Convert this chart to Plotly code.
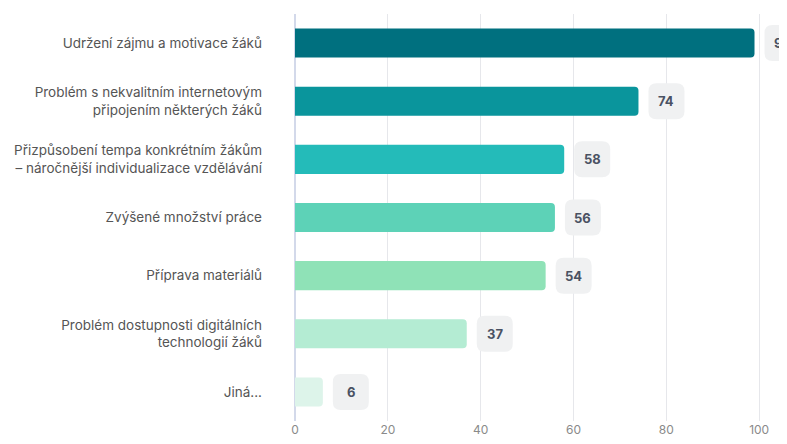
import plotly.graph_objects as go

categories = [
    "Udržení zájmu a motivace žáků",
    "Problém s nekvalitním internetovým<br>připojením některých žáků",
    "Přizpůsobení tempa konkrétním žákům<br>– náročnější individualizace vzdělávání",
    "Zvýšené množství práce",
    "Příprava materiálů",
    "Problém dostupnosti digitálních<br>technologií žáků",
    "Jiná...",
]
values = [99, 74, 58, 56, 54, 37, 6]
colors = ["#00707f", "#0a959c", "#24bbb9", "#5dd2b7", "#8fe2b7", "#b4ecd3", "#ddf4ea"]
x_ticks = [0, 20, 40, 60, 80, 100]

fig = go.Figure()
fig.add_trace(go.Bar(
    x=values, y=categories, orientation="h",
    marker=dict(color=colors, cornerradius=4, line=dict(width=0)),
    width=0.5, hoverinfo="skip",
))

shapes = []
annotations = []
for cat, v in zip(categories, values):
    # rounded box in pixel units anchored at bar end
    x0, x1, h, r = 10, 46, 18, 8
    path = (f"M{x0+r},{-h} L{x1-r},{-h} Q{x1},{-h} {x1},{-h+r} "
            f"L{x1},{h-r} Q{x1},{h} {x1-r},{h} L{x0+r},{h} Q{x0},{h} {x0},{h-r} "
            f"L{x0},{-h+r} Q{x0},{-h} {x0+r},{-h} Z")
    shapes.append(dict(type="path", xref="x", yref="y", xsizemode="pixel", ysizemode="pixel",
                       xanchor=v, yanchor=cat, path=path,
                       fillcolor="#f0f1f2", line=dict(width=0), layer="above"))
    annotations.append(dict(x=v, y=cat, xref="x", yref="y", text=f"<b>{v}</b>",
                            showarrow=False, xshift=28, xanchor="center",
                            font=dict(family="Inter", size=13, color="#4a5263")))

fig.update_layout(
    width=779, height=436,
    margin=dict(l=287, r=0, t=6, b=23),
    paper_bgcolor="white", plot_bgcolor="white",
    showlegend=False, bargap=0.5,
    font=dict(family="Inter", size=12, color="#555"),
    shapes=shapes, annotations=annotations,
    xaxis=dict(range=[0, 106], tickvals=x_ticks, showgrid=True, gridcolor="#e6e7eb",
               gridwidth=1, zeroline=True, zerolinecolor="#d3d9ea", zerolinewidth=2,
               tickfont=dict(size=12, color="#8a8a8a"), ticks="", fixedrange=True),
    yaxis=dict(autorange="reversed", showgrid=False, zeroline=False, ticks="",
               ticklabelstandoff=32, tickfont=dict(size=13.5, color="#555555"),
               showline=False),
)

fig.write_html("out.html")
